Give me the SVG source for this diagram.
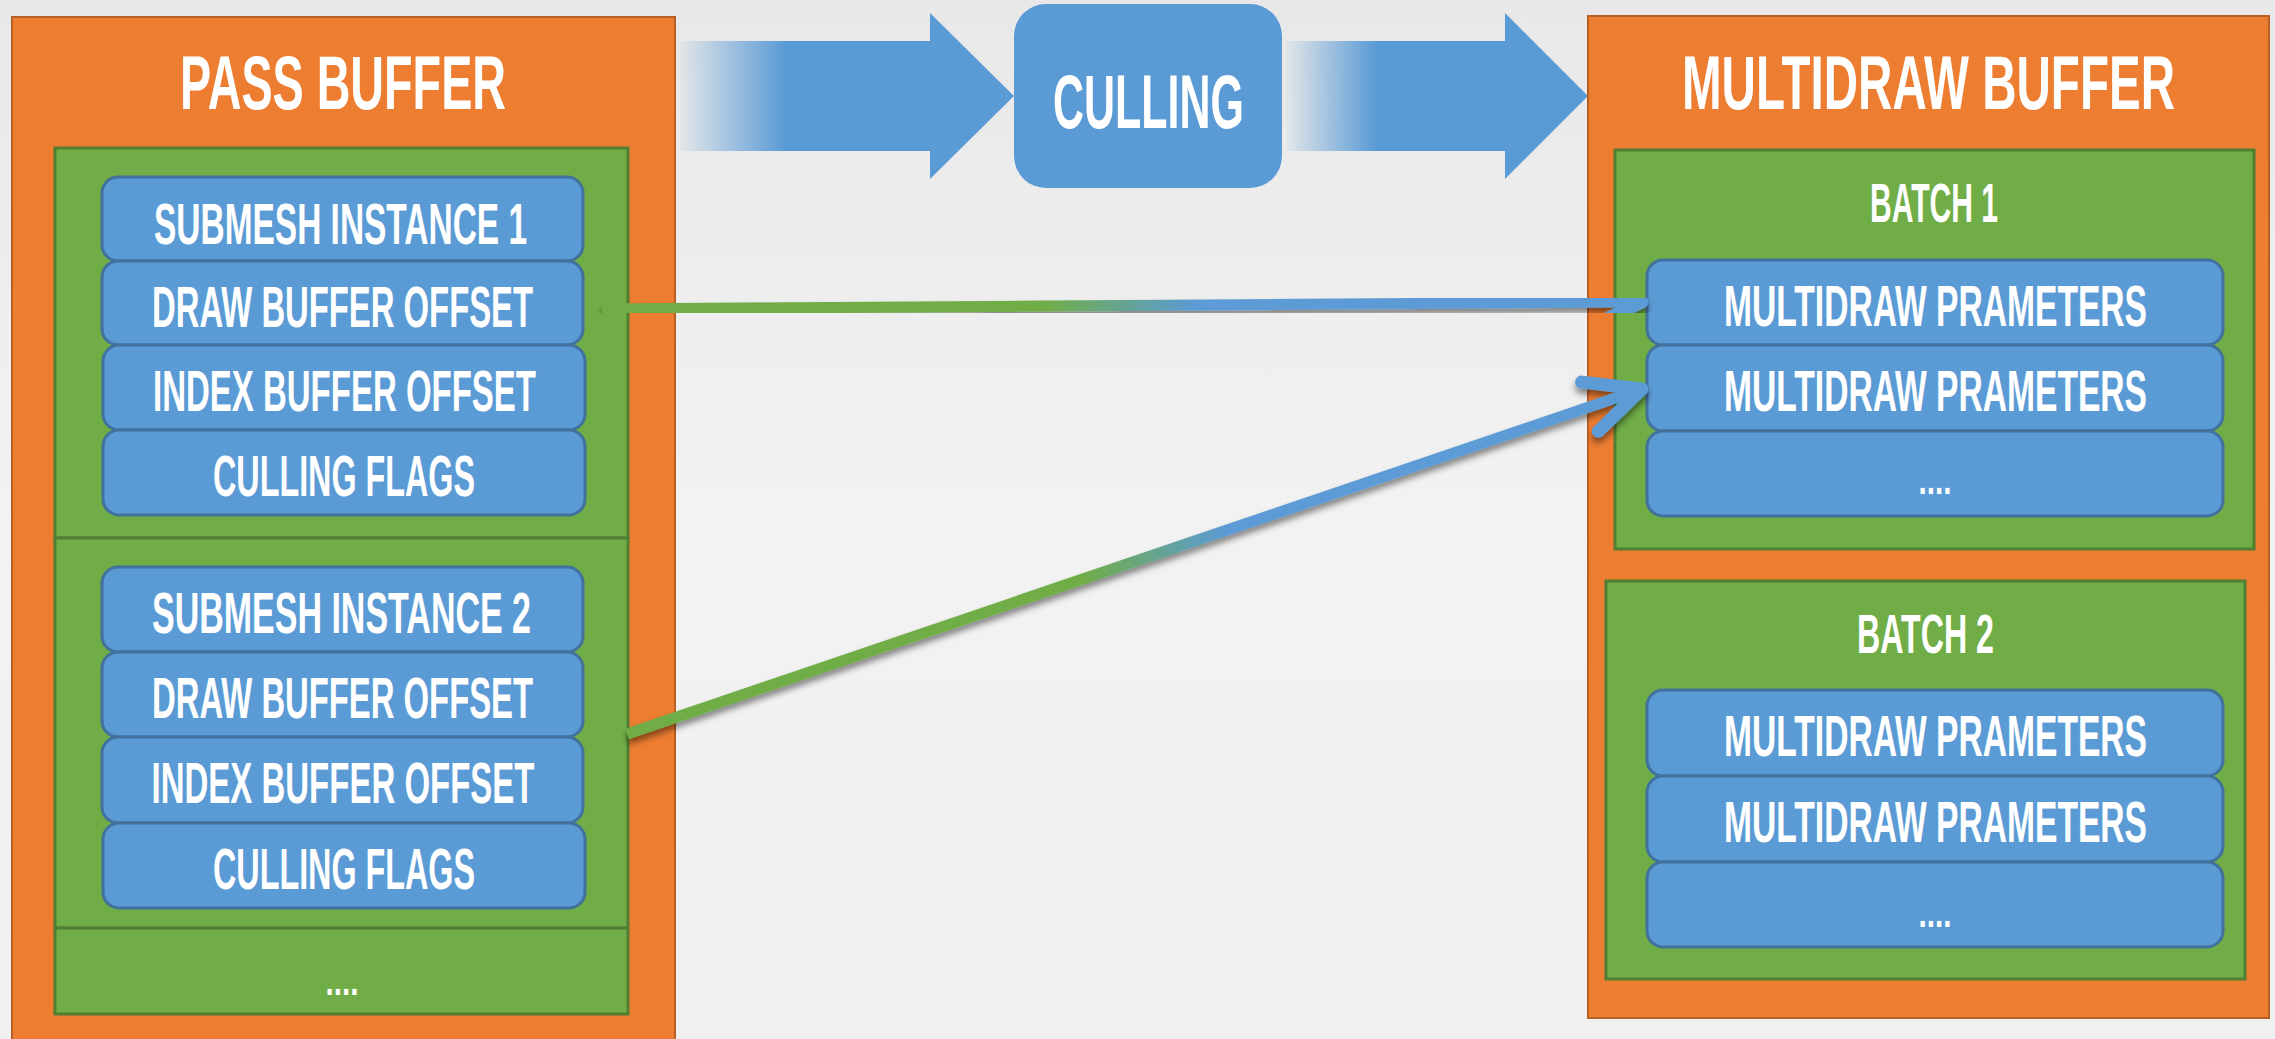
<svg xmlns="http://www.w3.org/2000/svg" width="2275" height="1039" viewBox="0 0 2275 1039">
<defs>
<style>
.orange{fill:#ed7d31;stroke:#b85f24;stroke-width:2}
.green{fill:#70ad47;stroke:#507e32;stroke-width:3}
.blue{fill:#5b9bd5;stroke:#41719c;stroke-width:3}
.title{font-family:"Liberation Sans Narrow","Liberation Sans",Arial,sans-serif;font-weight:bold;font-size:54px;fill:#ffffff;text-anchor:middle}
.label{font-family:"Liberation Sans Narrow","Liberation Sans",Arial,sans-serif;font-weight:bold;font-size:40.7px;fill:#ffffff;text-anchor:middle}
.batch{font-family:"Liberation Sans Narrow","Liberation Sans",Arial,sans-serif;font-weight:bold;font-size:39.3px;fill:#ffffff;text-anchor:middle}
.dots{font-family:"Liberation Sans","Liberation Sans Narrow",Arial,sans-serif;font-weight:bold;font-size:40px;fill:#ffffff;text-anchor:middle}
.conn{fill:none;stroke-width:11;filter:url(#shadow)}
</style>
<linearGradient id="bgGrad" x1="0" y1="0" x2="0" y2="1">
<stop offset="0" stop-color="#e8e8e8"/>
<stop offset="0.5" stop-color="#f2f2f2"/>
<stop offset="1" stop-color="#f0f0f0"/>
</linearGradient>
<linearGradient id="fade1" gradientUnits="userSpaceOnUse" x1="680" y1="0" x2="785" y2="0">
<stop offset="0" stop-color="#5b9bd5" stop-opacity="0.05"/>
<stop offset="1" stop-color="#5b9bd5" stop-opacity="1"/>
</linearGradient>
<linearGradient id="fade2" gradientUnits="userSpaceOnUse" x1="1286" y1="0" x2="1375" y2="0">
<stop offset="0" stop-color="#5b9bd5" stop-opacity="0.05"/>
<stop offset="1" stop-color="#5b9bd5" stop-opacity="1"/>
</linearGradient>
<linearGradient id="lineGrad1" gradientUnits="userSpaceOnUse" x1="1044" y1="306" x2="1195" y2="305">
<stop offset="0" stop-color="#70ad47"/>
<stop offset="1" stop-color="#5b9bd5"/>
</linearGradient>
<linearGradient id="lineGrad2" gradientUnits="userSpaceOnUse" x1="1083" y1="579" x2="1227" y2="530">
<stop offset="0" stop-color="#70ad47"/>
<stop offset="1" stop-color="#5b9bd5"/>
</linearGradient>
<filter id="shadow" x="-10%" y="-50%" width="120%" height="200%">
<feDropShadow dx="0" dy="5" stdDeviation="3" flood-color="#000000" flood-opacity="0.45"/>
</filter>
<marker id="arrowV" markerUnits="userSpaceOnUse" viewBox="-70 -40 80 80" refX="0" refY="0" markerWidth="80" markerHeight="80" orient="auto" overflow="visible">
<path d="M-55,-26 L0,0 L-55,26" fill="none" stroke="#5b9bd5" stroke-width="13" stroke-linecap="round" stroke-linejoin="round"/>
</marker>
</defs>

<rect x="0" y="0" width="2275" height="1039" fill="url(#bgGrad)"/>

<g id="pass-buffer">
<rect class="orange" x="12" y="17" width="663" height="1030"/>
<text class="title" transform="translate(343,109) scale(1,1.4)" textLength="326" lengthAdjust="spacingAndGlyphs">PASS BUFFER</text>
<g id="submesh-1">
<rect class="green" x="55" y="148" width="573" height="390"/>
<rect class="blue" x="102" y="177" width="481" height="84" rx="16"/>
<text class="label" transform="translate(340.5,243.5) scale(1,1.4)" textLength="373" lengthAdjust="spacingAndGlyphs">SUBMESH INSTANCE 1</text>
<rect class="blue" x="102" y="261" width="481" height="84" rx="16"/>
<text class="label" transform="translate(342.5,327) scale(1,1.4)" textLength="381" lengthAdjust="spacingAndGlyphs">DRAW BUFFER OFFSET</text>
<rect class="blue" x="103" y="345" width="482" height="85" rx="16"/>
<text class="label" transform="translate(344.5,411) scale(1,1.4)" textLength="383" lengthAdjust="spacingAndGlyphs">INDEX BUFFER OFFSET</text>
<rect class="blue" x="103" y="430" width="482" height="85" rx="16"/>
<text class="label" transform="translate(344,496) scale(1,1.4)" textLength="262" lengthAdjust="spacingAndGlyphs">CULLING FLAGS</text>
</g>
<g id="submesh-2">
<rect class="green" x="55" y="538" width="573" height="390"/>
<rect class="blue" x="102" y="567" width="481" height="85" rx="16"/>
<text class="label" transform="translate(341.5,633) scale(1,1.4)" textLength="379" lengthAdjust="spacingAndGlyphs">SUBMESH INSTANCE 2</text>
<rect class="blue" x="102" y="652" width="481" height="85" rx="16"/>
<text class="label" transform="translate(342.5,718) scale(1,1.4)" textLength="381" lengthAdjust="spacingAndGlyphs">DRAW BUFFER OFFSET</text>
<rect class="blue" x="102" y="737" width="481" height="86" rx="16"/>
<text class="label" transform="translate(343,803) scale(1,1.4)" textLength="383" lengthAdjust="spacingAndGlyphs">INDEX BUFFER OFFSET</text>
<rect class="blue" x="103" y="823" width="482" height="85" rx="16"/>
<text class="label" transform="translate(344,889) scale(1,1.4)" textLength="262" lengthAdjust="spacingAndGlyphs">CULLING FLAGS</text>
</g>
<g id="pass-more">
<rect class="green" x="55" y="928" width="573" height="86"/>
<text class="dots" x="342" y="995" textLength="33" lengthAdjust="spacingAndGlyphs">....</text>
</g>
</g>

<g id="culling">
<path d="M680,41 L930,41 L930,13 L1014,96 L930,179 L930,151 L680,151 Z" fill="url(#fade1)"/>
<rect x="1014" y="4" width="268" height="184" rx="32" fill="#5b9bd5"/>
<text class="title" transform="translate(1148.5,128) scale(1,1.4)" font-size="55" textLength="191" lengthAdjust="spacingAndGlyphs">CULLING</text>
<path d="M1286,41 L1505,41 L1505,13 L1588,96 L1505,179 L1505,151 L1286,151 Z" fill="url(#fade2)"/>
</g>

<g id="multidraw-buffer">
<rect class="orange" x="1588" y="16" width="681" height="1002"/>
<text class="title" transform="translate(1928.5,109) scale(1,1.4)" textLength="493" lengthAdjust="spacingAndGlyphs">MULTIDRAW BUFFER</text>
<g id="batch-1">
<rect class="green" x="1615" y="150" width="639" height="399"/>
<text class="batch" transform="translate(1934,222) scale(1,1.4)" textLength="128" lengthAdjust="spacingAndGlyphs">BATCH 1</text>
<rect class="blue" x="1647" y="260" width="576" height="85" rx="16"/>
<text class="label" transform="translate(1935.5,326) scale(1,1.4)" textLength="423" lengthAdjust="spacingAndGlyphs">MULTIDRAW PRAMETERS</text>
<rect class="blue" x="1647" y="345" width="576" height="86" rx="16"/>
<text class="label" transform="translate(1935.5,411) scale(1,1.4)" textLength="423" lengthAdjust="spacingAndGlyphs">MULTIDRAW PRAMETERS</text>
<rect class="blue" x="1647" y="431" width="576" height="85" rx="16"/>
<text class="dots" x="1935" y="494" textLength="33" lengthAdjust="spacingAndGlyphs">....</text>
</g>
<g id="batch-2">
<rect class="green" x="1606" y="581" width="639" height="398"/>
<text class="batch" transform="translate(1925.5,653) scale(1,1.4)" textLength="137" lengthAdjust="spacingAndGlyphs">BATCH 2</text>
<rect class="blue" x="1647" y="690" width="576" height="86" rx="16"/>
<text class="label" transform="translate(1935.5,756) scale(1,1.4)" textLength="423" lengthAdjust="spacingAndGlyphs">MULTIDRAW PRAMETERS</text>
<rect class="blue" x="1647" y="776" width="576" height="86" rx="16"/>
<text class="label" transform="translate(1935.5,842) scale(1,1.4)" textLength="423" lengthAdjust="spacingAndGlyphs">MULTIDRAW PRAMETERS</text>
<rect class="blue" x="1647" y="862" width="576" height="85" rx="16"/>
<text class="dots" x="1935" y="927" textLength="33" lengthAdjust="spacingAndGlyphs">....</text>
</g>
</g>

<g id="connectors">
<path class="conn" d="M602,309 L1642,302" stroke="url(#lineGrad1)" marker-end="url(#arrowV)"/>
<path class="conn" d="M627,734 L1642,389" stroke="url(#lineGrad2)" marker-end="url(#arrowV)"/>
</g>
</svg>
